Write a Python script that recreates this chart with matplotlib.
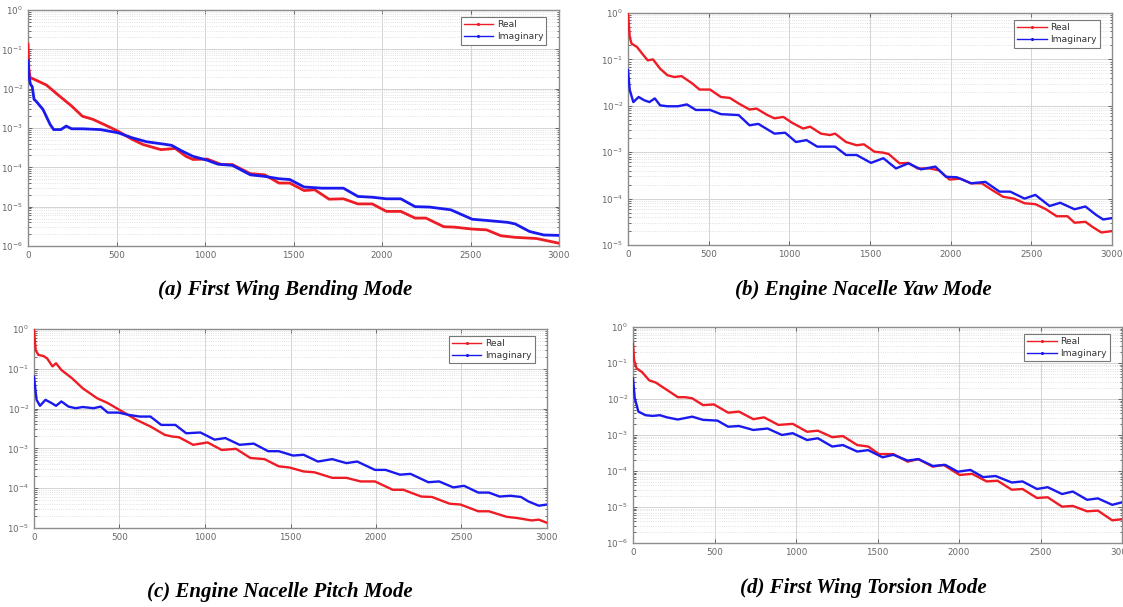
import numpy as np
import matplotlib
matplotlib.use("Agg")
import matplotlib.pyplot as plt
from matplotlib.lines import Line2D
from matplotlib.ticker import LogLocator, MultipleLocator, NullFormatter

# ---------------- data (x, log10 of amplitude) ----------------
a_real_x = [0, 5, 12, 34, 105, 165, 246, 307, 367, 448, 508, 589, 650, 751, 832, 892, 932, 1013,
            1094, 1155, 1256, 1337, 1418, 1479, 1560, 1620, 1701, 1782, 1864, 1945, 2025, 2106,
            2187, 2248, 2349, 2409, 2510, 2591, 2672, 2753, 2874, 3000]
a_real_y = [-0.87, -1.50, -1.72, -1.76, -1.91, -2.14, -2.44, -2.70, -2.78, -2.95, -3.08, -3.29, -3.42,
            -3.55, -3.52, -3.72, -3.80, -3.79, -3.93, -3.93, -4.16, -4.19, -4.40, -4.40, -4.59, -4.57,
            -4.81, -4.80, -4.93, -4.93, -5.12, -5.12, -5.29, -5.29, -5.51, -5.52, -5.57, -5.59, -5.74,
            -5.78, -5.81, -5.93]
a_imag_x = [0, 6, 14, 24, 34, 44, 85, 125, 145, 186, 216, 246, 307, 408, 508, 589, 670, 751, 811, 872,
            932, 1013, 1073, 1155, 1256, 1337, 1418, 1479, 1560, 1661, 1782, 1864, 1945, 2025, 2106,
            2187, 2268, 2389, 2510, 2591, 2712, 2753, 2833, 2914, 3000]
a_imag_y = [-1.29, -1.70, -1.89, -1.95, -2.27, -2.31, -2.53, -2.91, -3.04, -3.04, -2.95, -3.02, -3.02,
            -3.04, -3.12, -3.25, -3.35, -3.40, -3.44, -3.59, -3.72, -3.82, -3.92, -3.95, -4.19, -4.23,
            -4.29, -4.31, -4.50, -4.53, -4.53, -4.74, -4.76, -4.80, -4.80, -5.00, -5.01, -5.08, -5.32,
            -5.35, -5.40, -5.44, -5.63, -5.72, -5.73]

b_real_x = [0, 11, 22, 55, 89, 122, 155, 199, 244, 288, 332, 399, 443, 509, 576, 631, 686, 753, 797,
            864, 908, 963, 1019, 1085, 1129, 1196, 1251, 1284, 1351, 1417, 1462, 1528, 1583, 1616,
            1683, 1738, 1794, 1871, 1927, 1993, 2060, 2126, 2193, 2259, 2325, 2392, 2458, 2525, 2591,
            2657, 2724, 2768, 2835, 2879, 2934, 3000]
b_real_y = [-0.01, -0.52, -0.66, -0.73, -0.88, -1.02, -1.00, -1.20, -1.34, -1.38, -1.36, -1.52, -1.65,
            -1.65, -1.81, -1.83, -1.95, -2.08, -2.06, -2.20, -2.27, -2.24, -2.37, -2.49, -2.45, -2.60,
            -2.63, -2.60, -2.78, -2.85, -2.83, -2.99, -3.01, -3.04, -3.24, -3.23, -3.35, -3.35, -3.39,
            -3.59, -3.57, -3.67, -3.67, -3.82, -3.96, -4.00, -4.10, -4.12, -4.23, -4.38, -4.38, -4.52,
            -4.50, -4.61, -4.73, -4.70]
b_imag_x = [0, 11, 33, 66, 100, 133, 166, 199, 244, 310, 365, 421, 509, 576, 686, 753, 808, 908, 974,
            1041, 1107, 1173, 1284, 1351, 1417, 1506, 1583, 1661, 1738, 1816, 1905, 1971, 2038, 2126,
            2215, 2303, 2369, 2458, 2525, 2613, 2679, 2768, 2835, 2901, 2945, 3000]
b_imag_y = [-1.23, -1.66, -1.92, -1.81, -1.88, -1.92, -1.84, -1.99, -2.01, -2.01, -1.97, -2.09, -2.09,
            -2.18, -2.20, -2.42, -2.39, -2.60, -2.58, -2.78, -2.74, -2.88, -2.88, -3.06, -3.06, -3.23,
            -3.13, -3.35, -3.24, -3.37, -3.31, -3.53, -3.54, -3.67, -3.64, -3.85, -3.85, -4.00, -3.92,
            -4.16, -4.09, -4.23, -4.17, -4.35, -4.45, -4.42]

c_real_x = [0, 10, 25, 56, 77, 108, 129, 160, 223, 285, 369, 431, 515, 598, 681, 765, 806, 848, 931,
            973, 1015, 1098, 1181, 1265, 1348, 1431, 1494, 1577, 1640, 1744, 1827, 1910, 1994, 2098,
            2160, 2265, 2327, 2431, 2494, 2598, 2660, 2765, 2827, 2910, 2952, 3000]
c_real_y = [-0.03, -0.53, -0.65, -0.68, -0.74, -0.94, -0.86, -1.03, -1.24, -1.49, -1.74, -1.86, -2.07,
            -2.28, -2.45, -2.66, -2.70, -2.72, -2.91, -2.88, -2.85, -3.04, -3.01, -3.24, -3.27, -3.45,
            -3.48, -3.58, -3.60, -3.74, -3.74, -3.83, -3.83, -4.04, -4.04, -4.21, -4.22, -4.39, -4.41,
            -4.58, -4.58, -4.72, -4.75, -4.81, -4.79, -4.87]
c_imag_x = [0, 15, 35, 67, 98, 129, 160, 202, 244, 285, 348, 390, 431, 494, 556, 619, 681, 744, 827,
            890, 973, 1056, 1119, 1202, 1285, 1369, 1431, 1515, 1577, 1660, 1744, 1827, 1890, 1994,
            2056, 2140, 2202, 2306, 2369, 2452, 2515, 2598, 2660, 2723, 2785, 2848, 2890, 2952, 3000]
c_imag_y = [-1.20, -1.78, -1.93, -1.78, -1.85, -1.93, -1.82, -1.95, -1.99, -1.96, -1.99, -1.95, -2.10,
            -2.10, -2.16, -2.20, -2.20, -2.41, -2.41, -2.62, -2.60, -2.78, -2.74, -2.91, -2.88, -3.07,
            -3.07, -3.18, -3.16, -3.33, -3.27, -3.37, -3.33, -3.54, -3.54, -3.66, -3.64, -3.85, -3.83,
            -3.98, -3.94, -4.11, -4.11, -4.21, -4.19, -4.22, -4.33, -4.44, -4.41]

d_real_x = [0, 7, 22, 55, 99, 143, 165, 209, 275, 319, 363, 430, 496, 584, 650, 738, 804, 892, 980,
            1068, 1134, 1222, 1288, 1376, 1443, 1509, 1597, 1685, 1751, 1839, 1905, 2004, 2081, 2170,
            2236, 2324, 2390, 2478, 2544, 2632, 2698, 2786, 2852, 2940, 3000]
d_real_y = [-0.46, -0.92, -1.15, -1.25, -1.48, -1.55, -1.62, -1.75, -1.95, -1.95, -1.98, -2.17, -2.15,
            -2.38, -2.35, -2.56, -2.51, -2.72, -2.69, -2.91, -2.88, -3.06, -3.03, -3.28, -3.32, -3.53,
            -3.53, -3.74, -3.67, -3.88, -3.83, -4.11, -4.08, -4.29, -4.27, -4.52, -4.50, -4.75, -4.73,
            -4.99, -4.97, -5.12, -5.10, -5.37, -5.34]
d_imag_x = [0, 11, 33, 77, 121, 165, 209, 275, 363, 430, 518, 584, 650, 738, 826, 914, 980, 1068, 1134,
            1222, 1288, 1376, 1443, 1531, 1597, 1685, 1751, 1839, 1916, 1993, 2070, 2148, 2225, 2324,
            2390, 2478, 2544, 2632, 2698, 2786, 2852, 2940, 3000]
d_imag_y = [-1.43, -1.98, -2.35, -2.45, -2.47, -2.45, -2.51, -2.57, -2.49, -2.58, -2.60, -2.77, -2.75,
            -2.86, -2.82, -3.00, -2.95, -3.14, -3.09, -3.32, -3.28, -3.46, -3.42, -3.62, -3.55, -3.71,
            -3.67, -3.86, -3.83, -4.02, -3.97, -4.17, -4.14, -4.32, -4.29, -4.50, -4.45, -4.64, -4.57,
            -4.80, -4.76, -4.94, -4.87]

titles = ["(a) First Wing Bending Mode", "(b) Engine Nacelle Yaw Mode",
          "(c) Engine Nacelle Pitch Mode", "(d) First Wing Torsion Mode"]
ymins = [1e-6, 1e-5, 1e-5, 1e-6]
legend_labels = ["Real", "Imaginary"]
xticks = [0, 500, 1000, 1500, 2000, 2500, 3000]

# ---------------- layout ----------------
W, H = 1123, 607
fig = plt.figure(figsize=(W / 100, H / 100), dpi=100)
fig.patch.set_facecolor("white")

def px_axes(l, r, t, b):
    return fig.add_axes([l / W, 1 - b / H, (r - l) / W, (b - t) / H])

boxes = [(28, 559, 10, 246), (628, 1112, 13, 245), (34, 547, 329, 528), (633, 1122, 327, 543)]
title_pos = [(285, 290), (863, 290), (280, 592), (863, 588)]
series = [(a_real_x, a_real_y, a_imag_x, a_imag_y),
          (b_real_x, b_real_y, b_imag_x, b_imag_y),
          (c_real_x, c_real_y, c_imag_x, c_imag_y),
          (d_real_x, d_real_y, d_imag_x, d_imag_y)]
lws = [2.0, 1.7, 1.7, 1.7]
red = "#ee1c25"
blue = "#1a1aee"

for i, (box, (rx, ry, ix, iy)) in enumerate(zip(boxes, series)):
    ax = px_axes(*box)
    ax.plot(rx, 10 ** np.array(ry), color=red, lw=lws[i], zorder=3)
    ax.plot(ix, 10 ** np.array(iy), color=blue, lw=lws[i], zorder=3)
    ax.set_yscale("log")
    ax.set_ylim(ymins[i], 1)
    ax.set_xlim(0, 3000)
    ax.set_xticks(xticks)
    ax.xaxis.set_minor_locator(MultipleLocator(100))
    ax.yaxis.set_major_locator(LogLocator(base=10, numticks=10))
    ax.yaxis.set_minor_locator(LogLocator(base=10, subs=np.arange(2, 10), numticks=10))
    ax.yaxis.set_minor_formatter(NullFormatter())
    ax.grid(True, which="major", color="#d4d4d4", lw=0.7, ls="-")
    ax.grid(True, which="minor", axis="y", color="#d8d8d8", lw=0.6, ls=":")
    ax.tick_params(which="both", direction="in", top=True, right=True, colors="#555555",
                   labelsize=6.3, length=3, width=0.6)
    ax.tick_params(which="minor", length=1.8)
    ax.tick_params(axis="x", which="minor", length=0)
    ax.tick_params(axis="both", labelcolor="#666666")
    for s in ax.spines.values():
        s.set_color("#8c8c8c")
        s.set_linewidth(1.0)
    handles = [Line2D([], [], color=red, lw=1.0, marker=".", markersize=2.5),
               Line2D([], [], color=blue, lw=1.0, marker=".", markersize=2.5)]
    leg = ax.legend(handles, legend_labels, loc="upper right", fontsize=6.6, fancybox=False,
                    framealpha=1, edgecolor="#777777", handlelength=3.2, borderpad=0.35,
                    labelspacing=0.35, handletextpad=0.4, bbox_to_anchor=(0.985, 0.99))
    leg.get_frame().set_linewidth(0.8)
    for t in leg.get_texts():
        t.set_color("#333333")
    tx, ty = title_pos[i]
    fig.text(tx / W, 1 - ty / H, titles[i], ha="center", va="center",
             family="Liberation Serif", weight="bold", style="italic", fontsize=15)

fig.savefig("out.png", dpi=100)
